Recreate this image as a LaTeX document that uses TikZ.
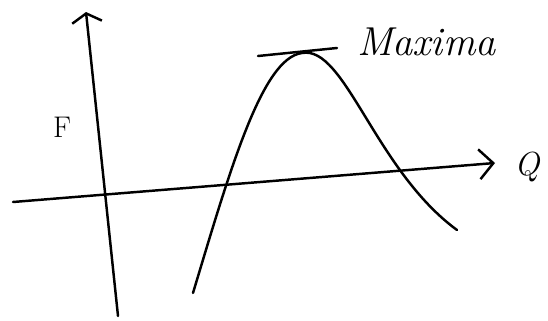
\documentclass[tikz,border=0pt]{standalone}
\usepackage{amsmath,amssymb}
\usepackage{tikz}
\usetikzlibrary{calc,arrows.meta}

\begin{document}
\begin{tikzpicture}[x=0.02cm, y=-0.02cm, line width=1.4pt, line cap=round, line join=round]
            \useasboundingbox (0,0) rectangle (548,321);
            % axis
            \coordinate(O)at(106,193);
            \coordinate(Qend)at(495,163);
            \coordinate(Qstart)at(13,202);
            \coordinate(Fend)at(86,12);
            \coordinate(Fstart)at(118,316);
            \path[draw, -{Straight Barb[length=8pt, width=17pt, line width=1.4pt]}](Qstart)to(Qend);
            \path[draw, -{Straight Barb[length=5pt, width=17pt, line width=1.4pt]}](Fstart)to(Fend);
            \node[font=\fontsize{17}{20}\selectfont](Flabel)at(62,127){F};
            \node[font=\fontsize{19}{22}\selectfont\itshape](Qlabel)at(527,167){Q};
            % curve
            \coordinate(start)at(193,293);
            \coordinate(peak)at(302,53);
            \coordinate(stop)at(457,230);
            \path[draw](start)..controls(230,170)and(262,58)..(peak)
                ..controls(345,45)and(375,170)..(stop);
            % tangent
            \coordinate(T1)at(258,56);
            \coordinate(T2)at(337,48);
            \path[draw](T1)to(T2);
            \node[anchor=west, font=\fontsize{23}{26}\selectfont\itshape](maxima)at(350,42){Maxima};
        \end{tikzpicture}
\end{document}
